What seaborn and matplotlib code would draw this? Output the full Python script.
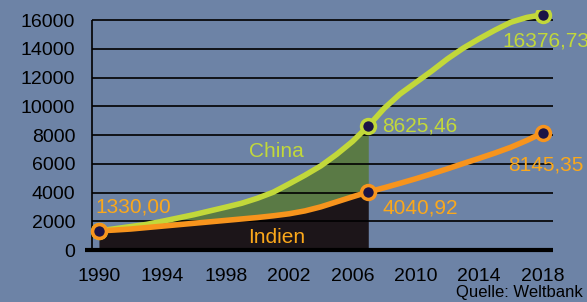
import numpy as np
import pandas as pd
import matplotlib.pyplot as plt
import seaborn as sns

# BIP pro Kopf, China und Indien (Quelle: Weltbank)
years = list(range(1990, 2019))
china = [1330, 1480, 1630, 1780, 2000, 2230, 2460, 2720, 2980, 3250,
         3600, 4020, 4600, 5200, 5850, 6650, 7550, 8625.46, 9850, 10850,
         11650, 12450, 13300, 14050, 14700, 15300, 15850, 16180, 16376.73]
india = [1330, 1390, 1460, 1560, 1660, 1760, 1860, 1960, 2060, 2160,
         2260, 2380, 2520, 2720, 3000, 3350, 3700, 4040.92, 4330, 4640,
         4960, 5300, 5650, 6020, 6380, 6750, 7150, 7620, 8145.35]
mark_years = [1990, 2007, 2018]
fill_end = 2007
yticks = list(range(0, 16001, 2000))
xticks = list(range(1990, 2019, 4))

df = pd.DataFrame({'Jahr': years, 'China': china, 'Indien': india})

bg = '#6d83a6'
green = '#c2d83a'
orange = '#f7941d'
orange_txt = '#fba81b'
dark = '#1c1519'
greenfill = '#5a7a45'
navy = '#1c1446'

sns.set_style('white')
plt.rcParams['font.family'] = ['Liberation Sans', 'DejaVu Sans']

fig = plt.figure(figsize=(5.87, 3.02), dpi=100, facecolor=bg)
# axes from x=85..553 px, y=10..254 px
ax = fig.add_axes([85 / 587, (302 - 254) / 302, 468 / 587, 244 / 302])
ax.set_facecolor(bg)
ax.set_xlim(1989.12, 2018.66)
ax.set_ylim(-278, 16700)

sub = df[df['Jahr'] <= fill_end]
ax.fill_between(sub['Jahr'], 0, sub['Indien'], color=dark, zorder=1, lw=0)
ax.fill_between(sub['Jahr'], sub['Indien'], sub['China'], color=greenfill,
                zorder=1, lw=0)

for v in yticks[1:]:
    ax.hlines(v, 1989.54, 2018.66, color='black', lw=1.2, zorder=2)
ax.hlines(0, 1989.12, 2018.66, color='black', lw=3, zorder=2)
ax.vlines(1989.54, 0, 16000, color='black', lw=1.2, zorder=2)

sns.lineplot(data=df, x='Jahr', y='China', color=green, lw=4, ax=ax, zorder=3)
sns.lineplot(data=df, x='Jahr', y='Indien', color=orange, lw=4, ax=ax, zorder=3)

mk = df[df['Jahr'].isin(mark_years)]
ax.scatter(mk['Jahr'], mk['China'], s=100, color=navy, edgecolor=green,
           linewidth=2.5, zorder=4)
ax.scatter(mk['Jahr'], mk['Indien'], s=100, color=navy, edgecolor=orange,
           linewidth=2.5, zorder=5)

for s in ax.spines.values():
    s.set_visible(False)

ax.set_yticks(yticks)
ax.set_yticklabels([str(v) for v in yticks])
ax.set_xticks(xticks)
ax.set_xticklabels([str(v) for v in xticks])
ax.set_xticks([y - 0.46 for y in range(1990, 2019)], minor=True)
ax.tick_params(axis='both', which='major', length=0, labelsize=14,
               labelcolor='black')
ax.tick_params(axis='y', pad=7)
ax.tick_params(axis='x', which='major', pad=10)
ax.tick_params(axis='x', which='minor', length=6, width=1.2, color='black',
               direction='out')
ax.set_xlabel('')
ax.set_ylabel('')

ax.text(1989.75, 2300, '1330,00', color=orange_txt, fontsize=15, ha='left', va='bottom')
ax.text(2007.9, 8625, '8625,46', color=green, fontsize=15, ha='left', va='center')
ax.text(2007.9, 2900, '4040,92', color=orange_txt, fontsize=15, ha='left', va='center')
ax.text(2018.2, 5900, '8145,35', color=orange_txt, fontsize=15, ha='center', va='center')
ax.text(2018.2, 14550, '16376,73', color=green, fontsize=15, ha='center', va='center')
ax.text(2001.2, 6850, 'China', color=green, fontsize=15, ha='center', va='center')
ax.text(2001.2, 900, 'Indien', color=orange_txt, fontsize=15, ha='center', va='center')

fig.text(583 / 587, 1 - 293 / 302, 'Quelle: Weltbank', fontsize=12,
         color='black', ha='right', va='center')

fig.savefig('out.png', dpi=100, facecolor=bg)
